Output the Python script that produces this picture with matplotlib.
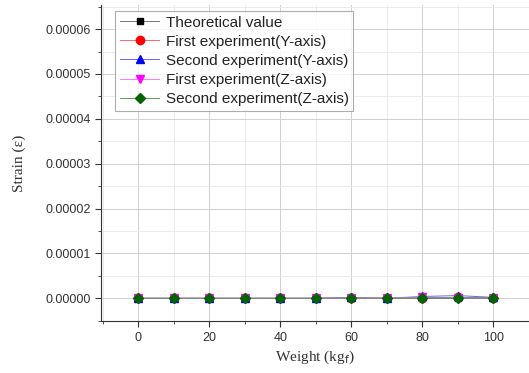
import matplotlib.pyplot as plt
from matplotlib.ticker import MultipleLocator, FormatStrFormatter

# weight in kgf
weight = [0, 10, 20, 30, 40, 50, 60, 70, 80, 90, 100]

# strain values (all close to zero)
theoretical = [0, 0, 0, 0, 0, 0, 0, 0, 0, 0, 0]
first_y = [0, 0, 0, 0, 0, 0, 1e-7, 0, 1e-7, 2e-7, 1e-7]
second_y = [0, 0, 0, 0, 0, 0, 2e-7, 0, 4e-7, 6e-7, 2e-7]
first_z = [0, 0, 0, 0, 0, 0, 1e-7, 0, 2e-7, 1e-7, 1e-7]
second_z = [0, 0, 0, 0, 0, 0, 1e-7, 0, 1e-7, 1e-7, 1e-7]

labels = ["Theoretical value", "First experiment(Y-axis)", "Second experiment(Y-axis)",
          "First experiment(Z-axis)", "Second experiment(Z-axis)"]

plt.rcParams['font.family'] = ['Liberation Sans', 'DejaVu Sans']

fig = plt.figure(figsize=(5.29, 3.73), dpi=100)
ax = fig.add_axes([0.191, 0.139, 0.809, 0.848])

series = [theoretical, first_y, second_y, first_z, second_z]
colors = ['black', 'red', 'blue', 'magenta', '#006400']
line_colors = ['#777777', '#ff6666', '#6666ff', '#ff77ff', '#559955']
markers = ['s', 'o', '^', 'v', 'D']
sizes = [5, 6, 6, 6, 5.5]
for s, c, lc, m, ms, lab in zip(series, colors, line_colors, markers, sizes, labels):
    ax.plot(weight, s, color=lc, marker=m, markersize=ms, linewidth=0.7,
            markerfacecolor=c, markeredgecolor=c, label=lab)

ax.set_xlim(-10.5, 110)
ax.set_ylim(-0.0000051, 0.0000654)
ax.xaxis.set_major_locator(MultipleLocator(20))
ax.xaxis.set_minor_locator(MultipleLocator(10))
ax.yaxis.set_major_locator(MultipleLocator(0.00001))
ax.yaxis.set_minor_locator(MultipleLocator(0.000005))
ax.yaxis.set_major_formatter(FormatStrFormatter('%.5f'))

ax.grid(True, which='major', color='#d0d0d0', linewidth=0.7)
ax.grid(True, which='minor', color='#e8e8e8', linewidth=0.6)
ax.set_axisbelow(True)

for sp in ['top', 'right']:
    ax.spines[sp].set_visible(False)
ax.spines['left'].set_color('#333333')
ax.spines['bottom'].set_color('#333333')
ax.tick_params(which='major', length=4, color='#333333', labelsize=9, labelcolor='#333333')
ax.tick_params(which='minor', length=2.5, color='#333333')

ax.set_xlabel("Weight (kg$_\\mathrm{f}$)", family='Liberation Serif', fontsize=11, color='#333333')
ax.set_ylabel("Strain (ε)", family='Liberation Serif', fontsize=11, color='#333333', labelpad=14)

leg = ax.legend(loc='upper left', bbox_to_anchor=(0.033, 0.98), fontsize=11,
                frameon=True, fancybox=False, edgecolor='#999999',
                handlelength=2.6, borderpad=0.3, labelspacing=0.33, handletextpad=0.4,
                borderaxespad=0)
leg.get_frame().set_linewidth(0.8)
for t in leg.get_texts():
    t.set_color('#222222')

fig.savefig('out.png', dpi=100)
